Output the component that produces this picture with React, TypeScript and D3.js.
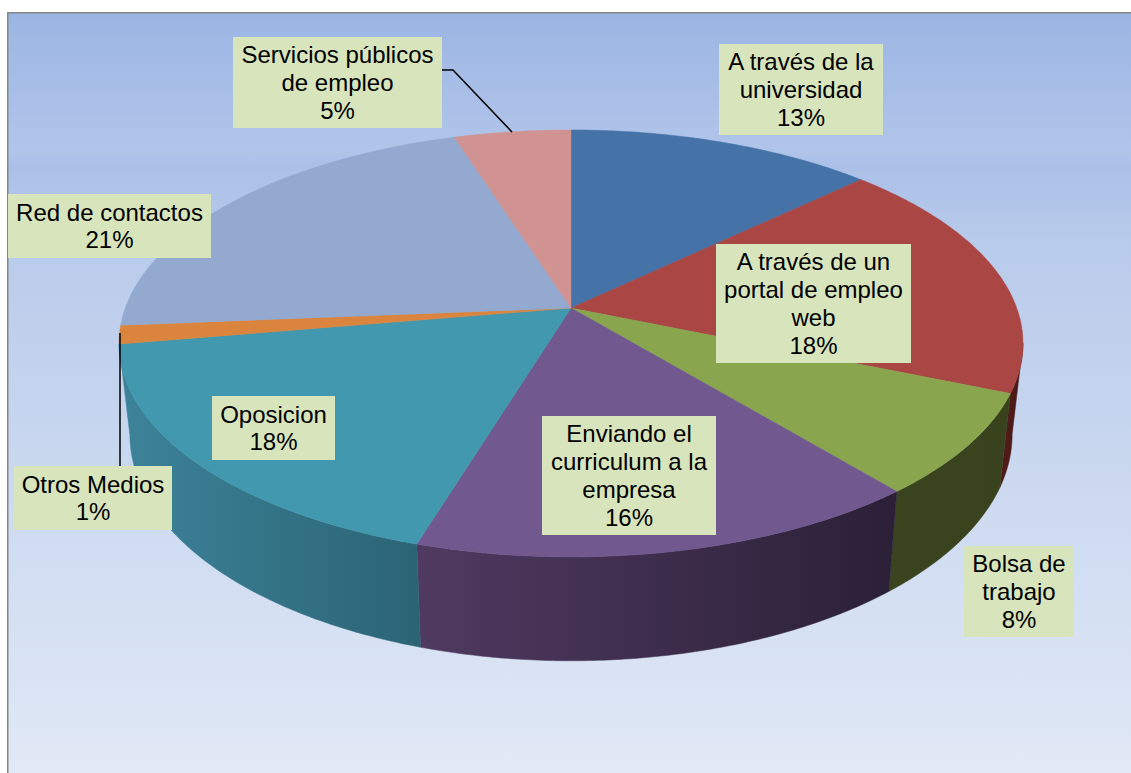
import React from "react";
import * as d3 from "d3";

// ---- data ----
const categories = [
  ["A través de la", "universidad"],
  ["A través de un", "portal de empleo", "web"],
  ["Bolsa de", "trabajo"],
  ["Enviando el", "curriculum a la", "empresa"],
  ["Oposicion"],
  ["Otros Medios"],
  ["Red de contactos"],
  ["Servicios públicos", "de empleo"],
];
const values = [12.9, 18.4, 7.7, 15.7, 17.6, 1.4, 21.4, 4.9];

// ---- styles and layout ----
const topColors = ["#4572A7", "#AA4643", "#89A54E", "#71588F", "#4198AF", "#DB843D", "#93A9CF", "#D19392"];
const sideLeft = ["#2e4b6f", "#501c1a", "#3a441e", "#503a61", "#3d8399", "#6d411e", "#4d5a75", "#6d4c4b"];
const sideRight = ["#2e4b6f", "#4a1917", "#38421c", "#2b2037", "#2b6475", "#6d411e", "#4d5a75", "#6d4c4b"];
const labelBoxes = [
  { x0: 719, x1: 883, y0: 44, y1: 135 },
  { x0: 716, x1: 911, y0: 244, y1: 363 },
  { x0: 964, x1: 1074, y0: 546, y1: 637 },
  { x0: 542, x1: 716, y0: 416, y1: 535 },
  { x0: 212, x1: 335, y0: 396, y1: 460 },
  { x0: 14, x1: 172, y0: 466, y1: 530 },
  { x0: 8, x1: 211, y0: 194, y1: 258 },
  { x0: 233, x1: 442, y0: 37, y1: 128 },
];
const leaders: [number, number][][] = [
  [[442, 70], [453, 70], [512, 132]],
  [[120, 333], [120, 466]],
];

const CX = 571;
const K = -0.166;
const topPlane = { a: 445.7, b: 207.6, y: 308 };
const bottomPlane = { a: 435, b: 220, y: 397 };
const project = (plane: { a: number; b: number; y: number }, angle: number): [number, number] => {
  const u = Math.sin(angle);
  const v = -Math.cos(angle);
  const d = 1 + K * v;
  return [CX + (plane.a * u) / d, plane.y + (plane.b * v) / d];
};
const sideMin = Math.acos(-0.166);
const sideMax = 2 * Math.PI - sideMin;

const arcs = d3.pie<number>().sort(null)(values);
const line = d3.line();

const sample = (a0: number, a1: number) => {
  const n = Math.max(2, Math.ceil((a1 - a0) / 0.01));
  return d3.range(n + 1).map((i) => a0 + ((a1 - a0) * i) / n);
};

export default function App() {
  const sides = arcs
    .map((arc, i) => {
      const a0 = Math.max(arc.startAngle, sideMin);
      const a1 = Math.min(arc.endAngle, sideMax);
      if (a1 - a0 <= 0.01) return null;
      const angles = sample(a0, a1);
      const pts = [
        ...angles.map((a) => project(topPlane, a)),
        ...angles.slice().reverse().map((a) => project(bottomPlane, a)),
      ];
      const xs = pts.map((p) => p[0]);
      return { i, d: line(pts) + "Z", x0: d3.min(xs)!, x1: d3.max(xs)! };
    })
    .filter(Boolean) as { i: number; d: string; x0: number; x1: number }[];

  return (
    <svg
      width={1131}
      height={773}
      style={{ position: "absolute", left: 0, top: 0, display: "block", background: "#fff" }}
      fontFamily="'Liberation Sans', Arial, sans-serif"
    >
      <defs>
        <linearGradient id="bg" gradientUnits="userSpaceOnUse" x1={0} y1={13} x2={0} y2={773}>
          <stop offset={0} stopColor="#9bb5e3" />
          <stop offset={0.18} stopColor="#b1c5ea" />
          <stop offset={0.2} stopColor="#abc0e8" />
          <stop offset={0.3} stopColor="#b9cbeb" />
          <stop offset={1} stopColor="#e1e9f6" />
        </linearGradient>
        {sides.map((s) => (
          <linearGradient
            key={s.i}
            id={`side${s.i}`}
            gradientUnits="userSpaceOnUse"
            x1={s.x0}
            y1={0}
            x2={s.x1}
            y2={0}
          >
            <stop offset={0} stopColor={sideLeft[s.i]} />
            <stop offset={1} stopColor={sideRight[s.i]} />
          </linearGradient>
        ))}
      </defs>
      <rect x={7.75} y={12.75} width={1300} height={900} fill="url(#bg)" stroke="#868686" strokeWidth={1.5} />

      {sides.map((s) => (
        <path key={s.i} d={s.d} fill={`url(#side${s.i})`} stroke={`url(#side${s.i})`} strokeWidth={0.5} />
      ))}

      {arcs.map((arc, i) => {
        const pts = [
          [CX, topPlane.y] as [number, number],
          ...sample(arc.startAngle, arc.endAngle).map((a) => project(topPlane, a)),
        ];
        return <path key={i} d={line(pts) + "Z"} fill={topColors[i]} stroke={topColors[i]} strokeWidth={0.5} />;
      })}

      {leaders.map((pts, i) => (
        <path key={i} d={line(pts)!} fill="none" stroke="#000" strokeWidth={1.5} />
      ))}

      {categories.map((lines, i) => {
        const b = labelBoxes[i];
        const all = [...lines, `${Math.round(values[i])}%`];
        const lh = 27.9;
        const cx = (b.x0 + b.x1) / 2;
        const first = (b.y0 + b.y1) / 2 - (lh * (all.length - 1)) / 2 + 8.5;
        return (
          <g key={i}>
            <rect x={b.x0} y={b.y0} width={b.x1 - b.x0} height={b.y1 - b.y0} fill="#d8e4bc" />
            {all.map((t, j) => (
              <text key={j} x={cx} y={first + j * lh} textAnchor="middle" fontSize={24} fill="#000">
                {t}
              </text>
            ))}
          </g>
        );
      })}
    </svg>
  );
}
